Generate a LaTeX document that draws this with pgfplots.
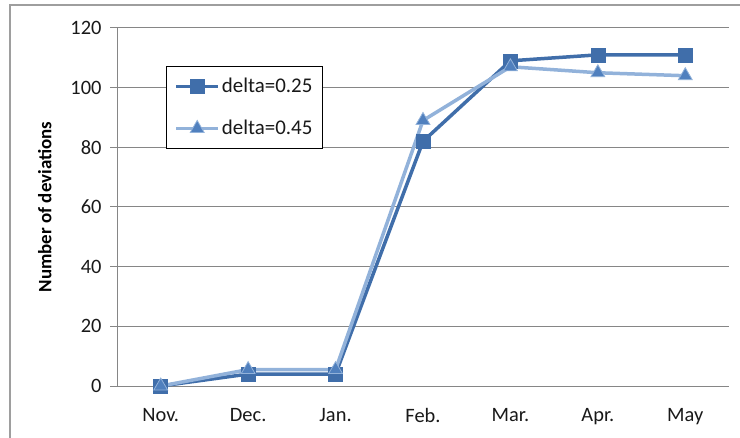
\documentclass[border=0pt]{standalone}
\usepackage{pgfplots}
\pgfplotsset{compat=1.18}
\usepackage{fontspec}
\setmainfont{Carlito}
\definecolor{darkser}{RGB}{64,110,170}
\definecolor{lightser}{RGB}{146,178,218}
\definecolor{trifill}{RGB}{80,128,190}
\definecolor{gridc}{RGB}{134,134,134}
\begin{document}
\begin{tikzpicture}
\useasboundingbox (0,0) rectangle (740bp,438bp);
\draw[color=gridc!80, line width=1.2bp] (10bp,-20bp) -- (10bp,433bp) -- (760bp,433bp);
\begin{axis}[
  at={(117bp,52bp)}, anchor=south west,
  scale only axis, width=612bp, height=358bp,
  xmin=-0.5, xmax=6.5, ymin=0, ymax=120,
  axis x line=bottom, axis y line=left,
  axis line style={-, color=gridc, line width=1bp},
  xtick={0,...,6},
  xticklabels={Nov.,Dec.,Jan.,Feb.,Mar.,Apr.,May},
  major x tick style={draw=none},
  extra x ticks={-0.5,0.5,1.5,2.5,3.5,4.5,5.5,6.5},
  extra x tick labels={},
  extra x tick style={major tick length=7bp, tick style={color=gridc, line width=1bp}, grid=none},
  ytick={0,20,...,120},
  tick align=outside,
  major tick length=7bp,
  tick style={color=gridc, line width=1bp},
  ymajorgrids,
  grid style={color=gridc, line width=1bp},
  ticklabel style={font=\fontsize{20.5}{24}\selectfont, color=black!90},
  xticklabel style={yshift=-12bp},
  yticklabel style={xshift=-5bp},
  /pgf/number format/assume math mode=true,
  ylabel={\bfseries Number of deviations},
  ylabel style={font=\fontsize{19}{22}\selectfont, yshift=12bp},
  legend style={at={(0.080,0.894)}, anchor=north west, draw=black, line width=1bp,
    font=\fontsize{21}{24}\selectfont, row sep=22bp, inner xsep=8bp, inner ysep=10bp,
    cells={anchor=west}, text=black!90},
  legend image code/.code={
    \draw[#1, line width=3.5bp, mark repeat=2, mark phase=2] plot coordinates {(-4bp,0bp) (17bp,0bp) (38bp,0bp)};
  },
  clip=false,
]
\addplot[color=darkser, line width=3.5bp, mark=square*, mark size=7bp,
  mark options={fill=darkser, draw=darkser, line width=0.5bp}]
  coordinates {(0,0) (1,4) (2,4) (3,82) (4,109) (5,111) (6,111)};
\addlegendentry{delta=0.25}
\addplot[color=lightser, line width=3.5bp, mark=triangle*, mark size=8bp,
  mark options={fill=trifill, draw=lightser, line width=0.8bp}]
  coordinates {(0,0) (1,5.5) (2,5.5) (3,89) (4,107) (5,105) (6,104)};
\addlegendentry{delta=0.45}
\end{axis}
\end{tikzpicture}
\end{document}
